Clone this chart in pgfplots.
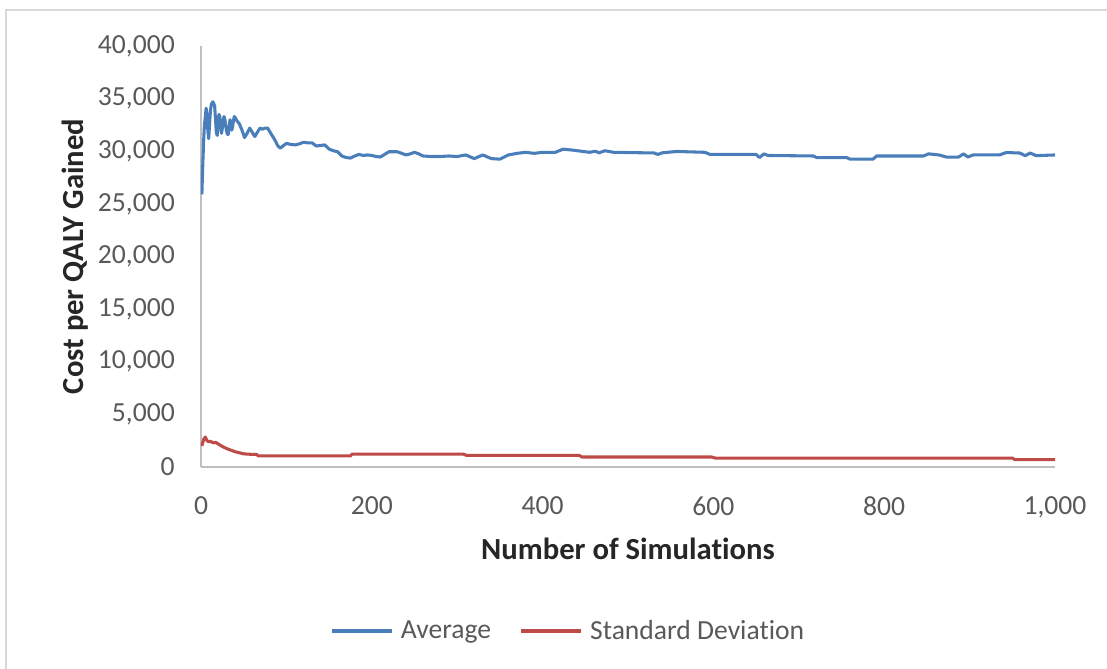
\documentclass[border=0pt]{standalone}
\usepackage{pgfplots}
\pgfplotsset{compat=1.18}
\usepackage{fontspec}
\setmainfont{Carlito}[RawFeature={-liga;-dlig;-clig;-calt}]
\definecolor{avgblue}{HTML}{4A7EBB}
\definecolor{sdred}{HTML}{BE4B48}
\definecolor{axgray}{HTML}{BFBFBF}
\definecolor{bordergray}{HTML}{D9D9D9}
\definecolor{ticktext}{HTML}{595959}
\definecolor{titletext}{HTML}{262626}
\begin{document}
\begin{tikzpicture}
\useasboundingbox (-150.75pt,-150.75pt) rectangle (679.5pt,350.25pt);
\draw[bordergray, line width=1.2pt] (-146.25pt,-170pt) -- (-146.25pt,342.75pt) -- (700pt,342.75pt);
\begin{axis}[
  at={(0,0)}, anchor=south west,
  scale only axis, width=640.5pt, height=315.75pt,
  xmin=0, xmax=1000, ymin=0, ymax=40000,
  axis x line=bottom, axis y line=left,
  axis line style={-, draw=axgray, line width=1.1pt},
  xtick={0,200,...,1000}, ytick={0,5000,...,40000},
  major tick length=0pt,
  scaled ticks=false,
  /pgf/number format/.cd, 1000 sep={,}, assume math mode=true, /pgfplots/.cd,
  ticklabel style={font=\fontsize{20.7}{24}\selectfont, text=ticktext},
  yticklabel style={anchor=east, inner sep=0pt, xshift=-19.5pt},
  xticklabel style={anchor=north, inner sep=0pt, yshift=-22pt},
  xlabel={Number of Simulations},
  ylabel={Cost per QALY Gained},
  label style={font=\fontsize{23}{27}\selectfont\bfseries, text=titletext},
  xlabel style={at={(axis description cs:0.5,-0.1948)}, anchor=center},
  ylabel style={at={(axis description cs:-0.1475,0.5)}, anchor=center, rotate=0},
  legend columns=2,
  legend style={at={(axis description cs:0.4333,-0.3895)}, anchor=center, draw=none, fill=none,
    font=\fontsize{20.7}{24}\selectfont, text=ticktext,
    nodes={inner xsep=5.5pt},
    /tikz/every even column/.append style={column sep=16pt}},
  legend image code/.code={\draw[#1] (0pt,0pt) -- (45pt,0pt);},
]
\addplot[avgblue, line width=2.3pt, line join=round] coordinates {
(1,25900) (2,28500) (3,30800) (4,32500) (5,33200) (6,34100) (7,33500) (8,32000)
(9,31200) (10,32500) (11,33800) (12,34400) (13,34600) (14,34700) (15,34500)
(16,34300) (17,33000) (18,31800) (19,31500) (20,32800) (21,33500) (22,33300)
(23,32400) (24,31700) (25,32200) (26,32900) (27,33300) (28,33000) (29,32400)
(30,31900) (31,31600) (32,31600) (33,32400) (34,33000) (35,32500) (36,32000)
(37,32300) (38,32900) (39,33300) (40,33200) (42,32900) (45,32600) (48,32000)
(51,31300) (54,31700) (57,32200) (60,31800) (63,31400) (66,31800) (69,32200)
(72,32100) (75,32200) (78,32200) (81,31800) (84,31400) (87,31000) (90,30500)
(93,30300) (96,30500) (100,30750) (105,30650) (110,30600) (115,30700) (120,30850)
(125,30800) (130,30800) (135,30500) (140,30550) (145,30600) (150,30200) (155,30050)
(160,29950) (165,29550) (170,29400) (175,29350) (180,29550) (185,29700) (190,29600)
(195,29650) (200,29600) (205,29500) (210,29450) (215,29700) (220,29950) (225,29950)
(230,29950) (235,29800) (240,29650) (245,29750) (250,29900) (255,29750) (260,29550)
(270,29500) (280,29500) (290,29550) (300,29500) (310,29650) (320,29300) (330,29650)
(340,29300) (350,29250) (360,29650) (370,29800) (380,29900) (390,29800) (400,29900)
(415,29900) (424,30200) (436,30100) (455,29900) (462,30000) (466,29850) (473,30050)
(483,29900) (520,29850) (530,29850) (535,29700) (540,29850) (557,29980) (590,29900)
(596,29700) (650,29700) (654,29400) (659,29750) (664,29600) (717,29550) (721,29400)
(756,29400) (760,29250) (772,29250) (787,29250) (791,29550) (846,29550) (852,29750)
(864,29650) (873,29450) (887,29450) (893,29750) (898,29450) (904,29650) (935,29650)
(943,29880) (959,29830) (965,29580) (971,29830) (978,29580) (1000,29650)
};
\addlegendentry{Average}
\addplot[sdred, line width=2.3pt, line join=round] coordinates {
(1,2000) (3,2600) (5,2850) (7,2500) (9,2400) (11,2450) (13,2350) (15,2300)
(17,2350) (19,2250) (22,2100) (25,1950) (30,1750) (35,1600) (40,1450) (45,1350)
(50,1250) (55,1220) (60,1200) (65,1200) (67,1050) (175,1050) (177,1230) (307,1230)
(311,1100) (443,1100) (446,950) (598,950) (602,850) (950,850) (953,700) (1000,700)
};
\addlegendentry{Standard Deviation}
\end{axis}
\end{tikzpicture}
\end{document}
